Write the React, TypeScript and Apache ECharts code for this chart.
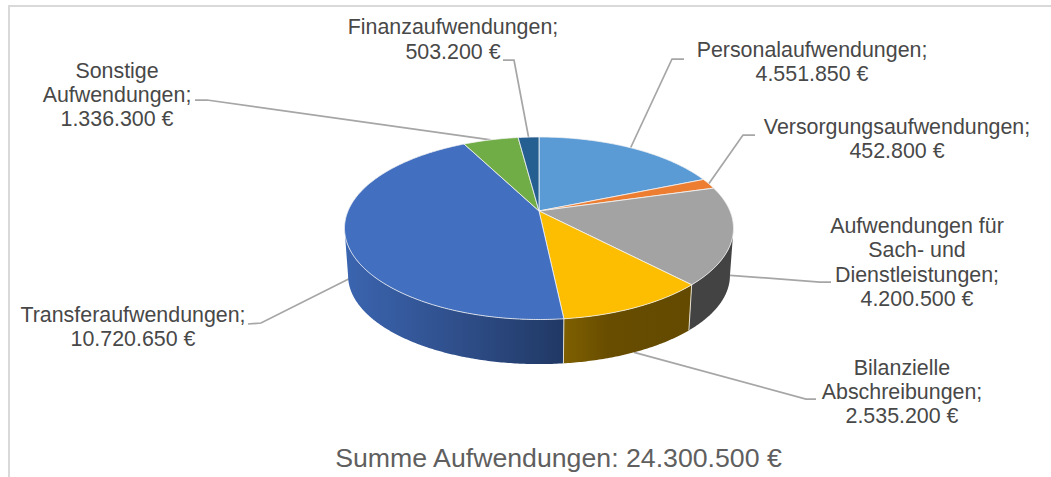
import React, { useEffect, useRef } from "react";
import * as echarts from "echarts";

const categories = [
  "Personalaufwendungen",
  "Versorgungsaufwendungen",
  "Aufwendungen für\nSach- und\nDienstleistungen",
  "Bilanzielle\nAbschreibungen",
  "Transferaufwendungen",
  "Sonstige\nAufwendungen",
  "Finanzaufwendungen",
];
const amounts = [4551850, 452800, 4200500, 2535200, 10720650, 1336300, 503200];
const topColors = ["#5b9bd5", "#ed7d31", "#a3a3a3", "#fdbd00", "#426fbf", "#70ad47", "#255e91"];
const titleText = "Summe Aufwendungen: 24.300.500 €";

// label centre, elbow of the leader line, its end next to the text, and how far down the wall it ends
const labelLayout = [
  { cx: 812, cy: 62, elbow: [672, 59], end: [684, 59], wall: 0 },
  { cx: 897, cy: 139, elbow: [743, 135], end: [755, 135], wall: 0 },
  { cx: 917, cy: 262.5, elbow: [820, 282], end: [831, 282], wall: 0.85 },
  { cx: 902, cy: 392, elbow: [806, 399], end: [816, 399], wall: 1 },
  { cx: 133, cy: 327, elbow: [261, 323], end: [248, 324], wall: 0.88 },
  { cx: 117, cy: 95, elbow: [207, 100], end: [195, 100], wall: 0 },
  { cx: 453, cy: 39.5, elbow: [514, 60], end: [503, 60], wall: 0 },
];

const sideFills: Record<number, any> = {
  2: "#434343",
  3: new echarts.graphic.LinearGradient(0, 0, 1, 0, [
    { offset: 0, color: "#7f6000" },
    { offset: 0.35, color: "#684d00" },
    { offset: 1, color: "#634a00" },
  ]),
  4: new echarts.graphic.LinearGradient(0, 0, 1, 0, [
    { offset: 0, color: "#3b65b0" },
    { offset: 0.55, color: "#2e4d88" },
    { offset: 1, color: "#203864" },
  ]),
};

// Perspective projection of the disc
const CX = 539;
const K = 0.189;
const TOP = { r: 191, s: 88, y0: 211 };
const BOTTOM = { r: 187.5, s: 85.4, y0: 258.8 };
const total = amounts.reduce((a, b) => a + b, 0);
const cumulative = amounts.map((_, i) => amounts.slice(0, i).reduce((a, b) => a + b, 0));
const angleOf = (v: number) => (v / total) * 2 * Math.PI;
const SIDE_START = Math.acos(-K);
const SIDE_END = 2 * Math.PI - SIDE_START;

function project(theta: number, t = 0): number[] {
  const u = Math.sin(theta);
  const v = -Math.cos(theta);
  const w = 1 / (1 - K * v);
  const r = TOP.r + (BOTTOM.r - TOP.r) * t;
  const s = TOP.s + (BOTTOM.s - TOP.s) * t;
  const y0 = TOP.y0 + (BOTTOM.y0 - TOP.y0) * t;
  return [CX + r * u * w, y0 + s * v * w];
}

function arc(a0: number, a1: number, t = 0): number[][] {
  const n = Math.max(2, Math.ceil((a1 - a0) / 0.01));
  const pts: number[][] = [];
  for (let i = 0; i <= n; i++) pts.push(project(a0 + ((a1 - a0) * i) / n, t));
  return pts;
}

const fmt = (v: number) => String(v).replace(/\B(?=(\d{3})+$)/g, ".") + " €";

const renderLabel = (params: any, api: any) => {
  const i = params.dataIndex;
  const value = api.value(0);
  const layout = labelLayout[i];
  const mid = angleOf(cumulative[i] + value / 2);
  const anchor = project(mid, layout.wall);
  return {
    type: "group",
    children: [
      {
        type: "polyline",
        shape: { points: [anchor, layout.elbow, layout.end] },
        style: { stroke: "#a6a6a6", lineWidth: 1.75, fill: "none" },
      },
      {
        type: "text",
        x: layout.cx,
        y: layout.cy,
        style: {
          text: `${categories[i]};\n${fmt(value)}`,
          align: "center",
          verticalAlign: "middle",
          fontFamily: "Liberation Sans",
          fontSize: 21.4,
          lineHeight: 24.4,
          fill: "#484848",
        },
      },
    ],
  };
};

const renderSide = (params: any, api: any) => {
  const i = params.dataIndex;
  const value = api.value(0);
  const a0 = Math.max(angleOf(cumulative[i]), SIDE_START);
  const a1 = Math.min(angleOf(cumulative[i] + value), SIDE_END);
  if (a1 <= a0) return { type: "group", children: [] };
  const seamStart = angleOf(cumulative[i]) >= SIDE_START;
  const [x1, y1] = project(a0, 0);
  const [x2, y2] = project(a0, 1);
  const children: any[] = [
    {
      type: "polygon",
      shape: { points: [...arc(a0, a1, 0), ...arc(a0, a1, 1).reverse()] },
      style: { fill: sideFills[i] ?? "#444444" },
    },
  ];
  if (seamStart) {
    children.push({
      type: "line",
      shape: { x1, y1, x2, y2 },
      style: { stroke: "#e4dfcf", lineWidth: 1 },
    });
  }
  return { type: "group", children };
};

const renderTop = (params: any, api: any) => {
  const i = params.dataIndex;
  const value = api.value(0);
  const a0 = angleOf(cumulative[i]);
  const a1 = angleOf(cumulative[i] + value);
  return {
    type: "polygon",
    shape: { points: [[CX, TOP.y0], ...arc(a0, a1, 0)] },
    style: { fill: topColors[i], stroke: "#f4f4f4", lineWidth: 0.8, lineJoin: "round" },
  };
};

export default function App() {
  const ref = useRef<HTMLDivElement>(null);
  useEffect(() => {
    const chart = echarts.init(ref.current!, undefined, { renderer: "svg" });
    chart.setOption({
      animation: false,
      backgroundColor: "#ffffff",
      title: {
        text: titleText,
        left: 553.5,
        top: 439,
        textAlign: "center",
        textStyle: { fontFamily: "Liberation Sans", fontSize: 26.7, fontWeight: "normal", color: "#5f5f5f" },
      },
      graphic: [
        { type: "line", shape: { x1: 9, y1: 5, x2: 9, y2: 477 }, style: { stroke: "#d9d9d9", lineWidth: 2 } },
        { type: "line", shape: { x1: 8, y1: 6, x2: 1051, y2: 6 }, style: { stroke: "#d9d9d9", lineWidth: 2 } },
      ],
      series: [
        { type: "custom", coordinateSystem: "none", z: 2, renderItem: renderLabel, data: amounts, silent: true },
        { type: "custom", coordinateSystem: "none", z: 3, renderItem: renderSide, data: amounts, silent: true },
        { type: "custom", coordinateSystem: "none", z: 4, renderItem: renderTop, data: amounts, silent: true },
      ],
    });
    return () => chart.dispose();
  }, []);
  return <div ref={ref} style={{ position: "absolute", left: 0, top: 0, width: 1051, height: 477 }} />;
}
